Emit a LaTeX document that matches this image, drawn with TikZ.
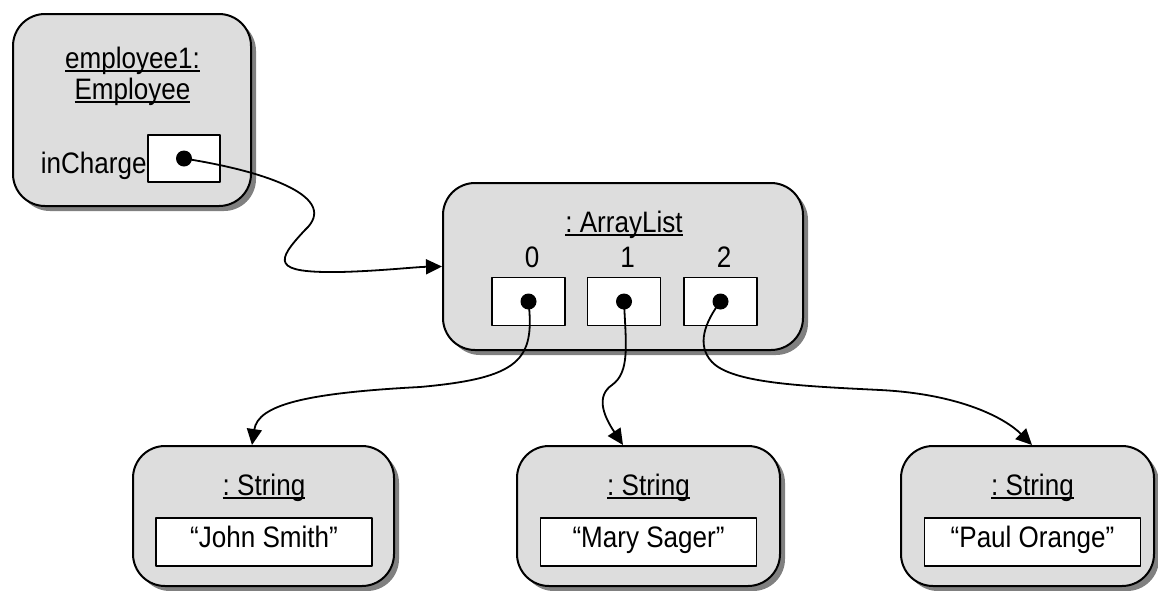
\documentclass[tikz,border=0pt]{standalone}
\usepackage{fontspec}
\setmainfont{Liberation Sans}[FakeStretch=0.88]
\usetikzlibrary{arrows.meta,shadows}
\definecolor{objfill}{HTML}{DDDDDD}
\definecolor{objshadow}{HTML}{808080}
\newsavebox\ulsave
\newcommand{\ultext}[1]{\sbox\ulsave{#1}\rlap{\rule[-2.2pt]{\wd\ulsave}{1pt}}\usebox\ulsave}
\begin{document}
\begin{tikzpicture}[x=0.5pt,y=-0.5pt,>={Triangle[length=8pt,width=7.5pt]},line join=round,line cap=round,
	font=\fontsize{14.8pt}{15.5pt}\selectfont\frenchspacing,
	obj/.style={draw,line width=1pt,fill=objfill,rounded corners=16pt,inner sep=0pt,
		drop shadow={shadow xshift=2.5pt,shadow yshift=-2.5pt,fill=objshadow,opacity=1}},
	slot/.style={draw,line width=0.8pt,fill=white,inner sep=0pt,minimum width=36.5pt,minimum height=24pt},
	val/.style={draw,line width=0.8pt,fill=white,inner sep=0pt,minimum width=108pt,minimum height=24pt,
		text height=8pt,text depth=3pt},
	dot/.style={circle,fill,inner sep=0pt,minimum size=8pt},
	ref/.style={->,line width=0.9pt}]
	\useasboundingbox (0,0) rectangle (1158,590);
	% objects
	\node[obj,minimum width=119pt,minimum height=96pt] (emp) at (132,110) {};
	\node[obj,minimum width=180pt,minimum height=83.5pt] (list) at (623,266.5) {};
	\foreach \n/\x/\w in {john/263.5/130.5,mary/648.5/131.5,paul/1027.5/126.5}
		\node[obj,minimum width=\w pt,minimum height=70pt] (\n) at (\x,516) {};
	% employee1
	\node[anchor=base] (empname) at (132.5,68) {\ultext{employee1:}};
	\node[anchor=base] (emptype) at (132.5,99) {\ultext{Employee}};
	\node[slot,minimum width=36pt,minimum height=23.5pt] (charge) at (184,158.5) {};
	\node[anchor=base east,inner sep=0pt] (chargelbl) at (147,173) {inCharge};
	\node[dot] (chargedot) at (charge) {};
	% list
	\node[anchor=base] (listname) at (624,232) {\ultext{: ArrayList}};
	\foreach \i/\x in {0/528.5,1/624,2/720.5}{
		\node[slot] (s\i) at (\x,301.5) {};
		\node[dot] (d\i) at (s\i) {};
		\node[anchor=base] (i\i) at (\x+3.5,267) {\i};
	}
	% strings
	\foreach \n/\x/\t in {john/264/“John Smith”,mary/648.5/“Mary Sager”,paul/1032.5/“Paul Orange”}{
		\node[anchor=base] (\n-cls) at (\x,495) {\ultext{: String}};
		\node[val] (\n-val) at (\x,542) {\t};
	}
	% references
	\draw[ref] (chargedot.center) .. controls (270,172) and (340,198) .. (305,230)
		.. controls (275,262) and (272,273) .. (340,272) .. controls (380,271) and (415,267) .. (list.west);
	\draw[ref] (d0.center) .. controls (535,360) and (520,378) .. (420,387)
		.. controls (305,393) and (258,405) .. ([xshift=-5.75pt]john.north);
	\draw[ref] (d1.center) .. controls (626,345) and (630,372) .. (612,385)
		.. controls (596,396) and (603,415) .. ([xshift=-12.75pt]mary.north);
	\draw[ref] (d2.center) .. controls (705,322) and (696,345) .. (712,362)
		.. controls (732,383) and (800,386) .. (880,390) .. controls (960,394) and (1005,418) .. ([xshift=2.25pt]paul.north);
\end{tikzpicture}
\end{document}
